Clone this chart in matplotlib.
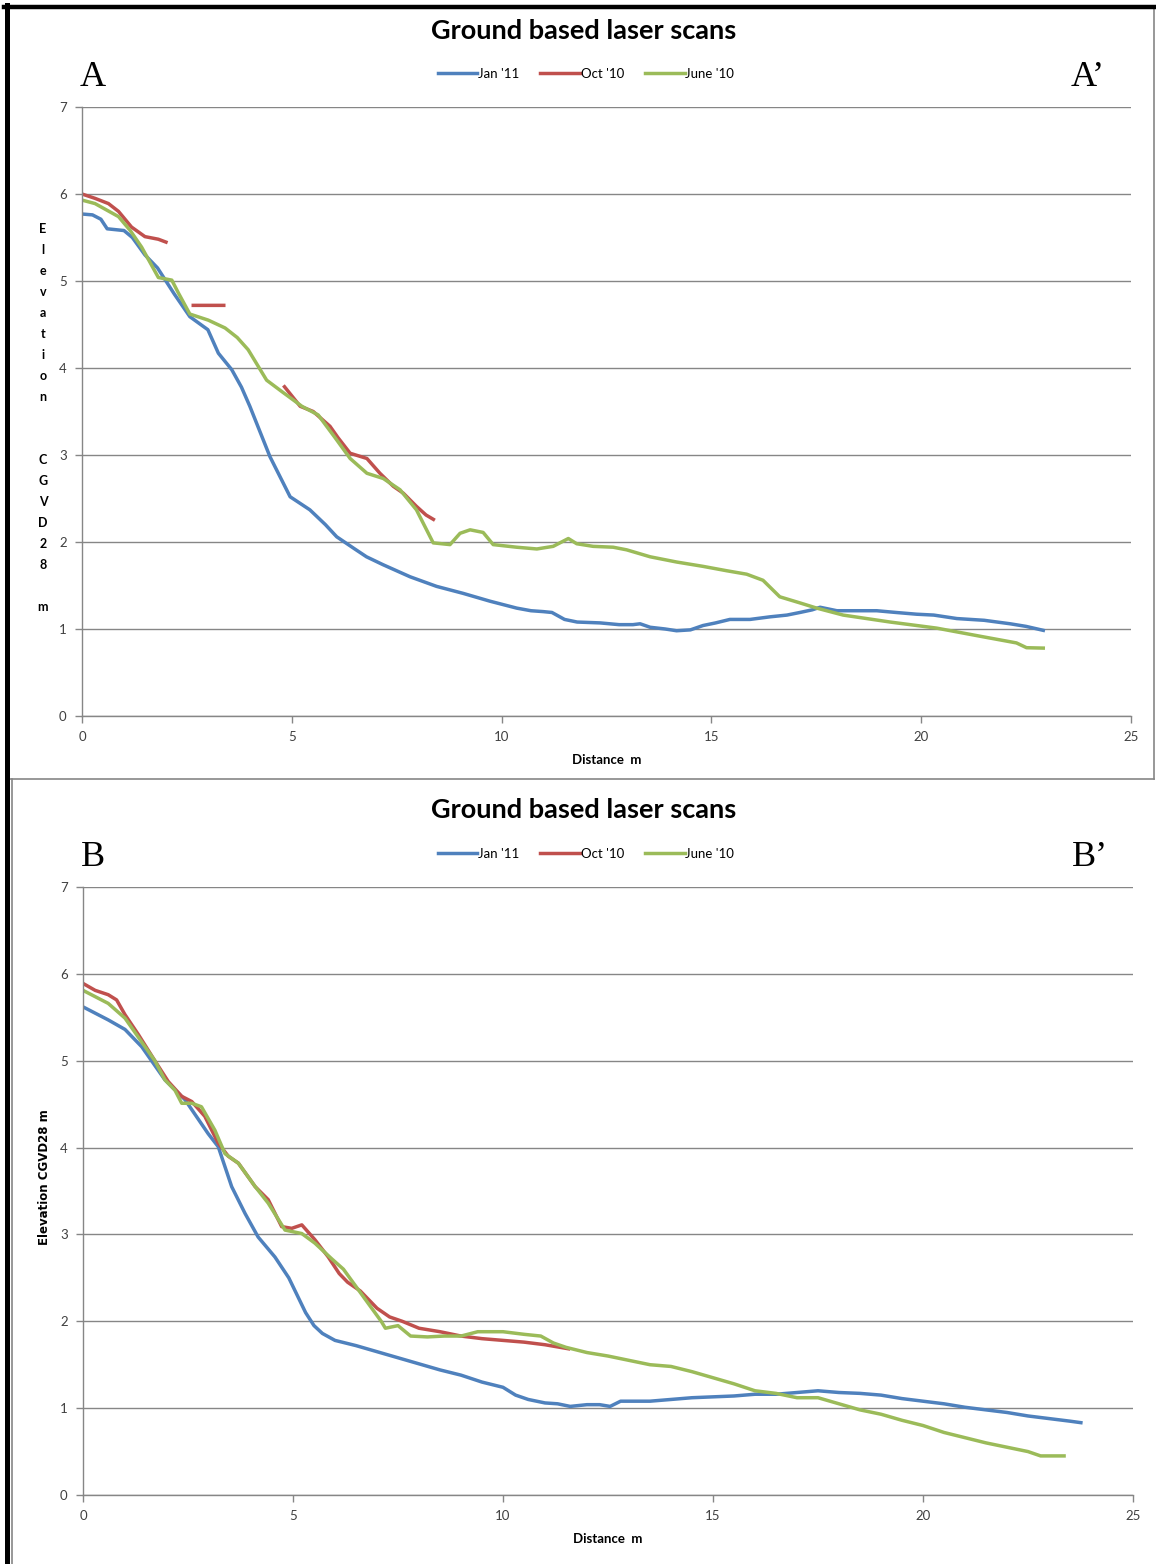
import matplotlib
matplotlib.use('Agg')
import matplotlib.pyplot as plt
from matplotlib.lines import Line2D
import numpy as np

# ================== data ==================
nan = np.nan
SERIES_NAMES = ["Jan '11", "Oct '10", "June '10"]
COLORS = ['#4F81BD', '#C0504D', '#9BBB59']

# --- profile A-A' ---
jan_a_x = [0, 0.25, 0.45, 0.6, 1.0, 1.2, 1.5, 1.8, 2.0, 2.2, 2.57, 3.0, 3.25, 3.57, 3.8, 4.0,
           4.48, 4.96, 5.43, 5.8, 6.07, 6.5, 6.78, 7.17, 7.82, 8.45, 9.08, 9.72, 10.36, 10.7,
           10.99, 11.2, 11.5, 11.8, 12.35, 12.8, 13.13, 13.3, 13.54, 13.9, 14.17, 14.5, 14.8,
           15.1, 15.44, 15.92, 16.4, 16.8, 17.11, 17.4, 17.59, 17.99, 18.5, 18.94, 19.4, 19.89,
           20.3, 20.85, 21.5, 22.12, 22.5, 22.95]
jan_a_y = [5.77, 5.76, 5.71, 5.6, 5.58, 5.5, 5.3, 5.15, 5.0, 4.85, 4.59, 4.44, 4.17, 3.98, 3.78,
           3.56, 2.98, 2.52, 2.37, 2.2, 2.06, 1.92, 1.83, 1.74, 1.60, 1.49, 1.41, 1.32, 1.24,
           1.21, 1.20, 1.19, 1.11, 1.08, 1.07, 1.05, 1.05, 1.06, 1.02, 1.00, 0.98, 0.99, 1.04,
           1.07, 1.11, 1.11, 1.14, 1.16, 1.19, 1.22, 1.25, 1.21, 1.21, 1.21, 1.19, 1.17, 1.16,
           1.12, 1.10, 1.06, 1.03, 0.98]

# Oct '10 has gaps in profile A (nan breaks the line)
oct_a_x = [0, 0.31, 0.63, 0.87, 1.18, 1.5, 1.82, 2.04, nan,
           2.61, 3.42, nan,
           4.8, 5.2, 5.51, 5.91, 6.1, 6.39, 6.79, 7.1, 7.42, 7.66, 7.97, 8.2, 8.41]
oct_a_y = [6.0, 5.95, 5.89, 5.80, 5.62, 5.51, 5.48, 5.44, nan,
           4.72, 4.72, nan,
           3.80, 3.56, 3.50, 3.33, 3.2, 3.02, 2.96, 2.79, 2.64, 2.56, 2.41, 2.31, 2.25]

jun_a_x = [0, 0.31, 0.87, 1.15, 1.42, 1.82, 2.14, 2.3, 2.57, 3.01, 3.41, 3.7, 3.96, 4.4, 4.76,
           5.24, 5.63, 6.03, 6.39, 6.79, 7.18, 7.58, 7.97, 8.37, 8.77, 9.01, 9.25, 9.56, 9.80,
           10.36, 10.84, 11.23, 11.59, 11.79, 12.18, 12.66, 12.98, 13.54, 14.17, 14.80, 15.36,
           15.84, 16.23, 16.63, 17.11, 17.51, 18.14, 19.26, 20.37, 21.48, 22.27, 22.51, 22.95]
jun_a_y = [5.93, 5.89, 5.74, 5.58, 5.39, 5.04, 5.01, 4.86, 4.62, 4.55, 4.46, 4.35, 4.21, 3.86,
           3.73, 3.56, 3.46, 3.20, 2.96, 2.79, 2.73, 2.60, 2.37, 1.99, 1.97, 2.10, 2.14, 2.11,
           1.97, 1.94, 1.92, 1.95, 2.04, 1.98, 1.95, 1.94, 1.91, 1.83, 1.77, 1.72, 1.67, 1.63,
           1.56, 1.37, 1.30, 1.24, 1.16, 1.08, 1.01, 0.91, 0.84, 0.785, 0.78]

# --- profile B-B' ---
jan_b_x = [0, 0.6, 1.0, 1.4, 1.95, 2.43, 2.98, 3.22, 3.54, 3.86, 4.17, 4.57, 4.9, 5.1, 5.3, 5.5,
           5.7, 6.0, 6.5, 7.0, 7.5, 8.0, 8.5, 9.0, 9.5, 10.0, 10.3, 10.6, 11.0, 11.3, 11.6, 12.0,
           12.3, 12.55, 12.8, 13.5, 14.0, 14.5, 15.0, 15.5, 16.0, 16.5, 17.0, 17.5, 18.0, 18.5,
           19.0, 19.5, 20.0, 20.5, 21.0, 21.5, 22.0, 22.5, 23.0, 23.5, 23.8]
jan_b_y = [5.62, 5.47, 5.36, 5.16, 4.78, 4.55, 4.16, 4.01, 3.55, 3.24, 2.97, 2.74, 2.5, 2.3, 2.1,
           1.95, 1.86, 1.78, 1.72, 1.65, 1.58, 1.51, 1.44, 1.38, 1.30, 1.24, 1.15, 1.1, 1.06,
           1.05, 1.02, 1.04, 1.04, 1.02, 1.08, 1.08, 1.10, 1.12, 1.13, 1.14, 1.16, 1.16, 1.18,
           1.20, 1.18, 1.17, 1.15, 1.11, 1.08, 1.05, 1.01, 0.98, 0.95, 0.91, 0.88, 0.85, 0.83]

oct_b_x = [0, 0.29, 0.6, 0.8, 1.0, 1.32, 1.71, 2.03, 2.35, 2.59, 2.9, 3.22, 3.46, 3.70, 4.1,
           4.41, 4.73, 4.97, 5.21, 5.52, 5.84, 6.1, 6.3, 6.6, 7.0, 7.3, 7.6, 8.0, 8.5, 9.0, 9.5,
           10.0, 10.5, 11.0, 11.6]
oct_b_y = [5.89, 5.81, 5.76, 5.70, 5.53, 5.30, 5.0, 4.76, 4.59, 4.53, 4.36, 4.05, 3.90, 3.82,
           3.55, 3.40, 3.09, 3.07, 3.11, 2.94, 2.74, 2.55, 2.45, 2.35, 2.15, 2.05, 2.0, 1.92,
           1.88, 1.83, 1.80, 1.78, 1.76, 1.73, 1.68]

jun_b_x = [0, 0.6, 1.0, 1.71, 1.95, 2.19, 2.35, 2.59, 2.82, 3.14, 3.38, 3.70, 4.1, 4.41, 4.81,
           5.21, 5.52, 5.92, 6.2, 6.5, 6.8, 7.1, 7.2, 7.5, 7.8, 8.2, 8.6, 9.0, 9.4, 10.0, 10.5,
           10.9, 11.2, 11.5, 12.0, 12.5, 13.0, 13.5, 14.0, 14.5, 15.0, 15.5, 16.0, 16.5, 17.0,
           17.5, 18.0, 18.5, 19.0, 19.5, 20.0, 20.5, 21.0, 21.5, 22.0, 22.5, 22.8, 23.4]
jun_b_y = [5.81, 5.66, 5.49, 5.0, 4.78, 4.66, 4.51, 4.51, 4.47, 4.20, 3.93, 3.82, 3.55, 3.36,
           3.05, 3.01, 2.90, 2.72, 2.6, 2.4, 2.2, 2.0, 1.92, 1.95, 1.83, 1.82, 1.83, 1.83, 1.88,
           1.88, 1.85, 1.83, 1.75, 1.70, 1.64, 1.60, 1.55, 1.50, 1.48, 1.42, 1.35, 1.28, 1.20,
           1.17, 1.12, 1.12, 1.05, 0.98, 0.93, 0.86, 0.80, 0.72, 0.66, 0.60, 0.55, 0.50, 0.45,
           0.45]

X_TICKS = [0, 5, 10, 15, 20, 25]
Y_TICKS = [0, 1, 2, 3, 4, 5, 6, 7]
TITLE = 'Ground based laser scans'

# ================== layout helpers ==================
W, H = 1156, 1564
GRAY = '#868686'
TXT = '#404040'
LW = 2.5


def fx(px):
    return px / W


def fy(py):
    return 1 - py / H


fig = plt.figure(figsize=(W / 100, H / 100), dpi=100)


def setup_axes(ax):
    ax.set_xlim(0, 25)
    ax.set_ylim(0, 7)
    ax.set_xticks(X_TICKS)
    ax.set_yticks(Y_TICKS)
    ax.grid(axis='y', color=GRAY, linewidth=1.0)
    ax.set_axisbelow(True)
    for s in ['top', 'right']:
        ax.spines[s].set_visible(False)
    for s in ['left', 'bottom']:
        ax.spines[s].set_color(GRAY)
        ax.spines[s].set_linewidth(1.0)
    ax.tick_params(direction='out', length=5, width=1, color=GRAY, labelcolor=TXT,
                   labelsize=9.5, pad=6)
    for lab in ax.get_xticklabels() + ax.get_yticklabels():
        lab.set_family('Lato')


def draw_panel(ax, xs, ys):
    for x, y, c, name in zip(xs, ys, COLORS, SERIES_NAMES):
        ax.plot(x, y, color=c, linewidth=LW, label=name, solid_capstyle='butt',
                solid_joinstyle='round')
    setup_axes(ax)
    ax.set_xlabel('Distance  m', fontsize=9.5, fontweight='bold', family='Lato', color='black',
                  labelpad=8)


# ================== top panel (A - A') ==================
ax1 = fig.add_axes([fx(82), fy(716), fx(1131) - fx(82), fy(107) - fy(716)])
draw_panel(ax1, [jan_a_x, oct_a_x, jun_a_x], [jan_a_y, oct_a_y, jun_a_y])
# stacked letters, like the original axis title
fig.text(fx(43), fy(418), 'E\nl\ne\nv\na\nt\ni\no\nn\n\n\nC\nG\nV\nD\n2\n8\n\nm',
         ha='center', va='center', fontsize=9, fontweight='bold', family='Lato',
         linespacing=1.9)

# ================== bottom panel (B - B') ==================
ax2 = fig.add_axes([fx(83), fy(1495), fx(1133) - fx(83), fy(887) - fy(1495)])
draw_panel(ax2, [jan_b_x, oct_b_x, jun_b_x], [jan_b_y, oct_b_y, jun_b_y])
fig.text(fx(45), fy(1177), 'Elevation CGVD28 m', rotation=90, ha='center', va='center',
         fontsize=8.5, fontweight='bold', family='Liberation Sans Narrow')

# titles, legends and section letters
for ty, ly in [(31, 74), (810, 854)]:
    fig.text(fx(584), fy(ty), TITLE, ha='center', va='center', fontsize=19.5,
             fontweight='bold', family='Lato')
    handles = [Line2D([], [], color=c, linewidth=LW) for c in COLORS]
    fig.legend(handles, SERIES_NAMES, loc='center', bbox_to_anchor=(fx(586), fy(ly)),
               ncol=3, frameon=False, handlelength=3.0, handletextpad=0.05,
               columnspacing=1.6, prop={'family': 'Lato', 'size': 9.5})

fig.text(fx(93), fy(77), 'A', ha='center', va='center', fontsize=26, family='Liberation Serif')
fig.text(fx(1088), fy(77), 'A\u2019', ha='center', va='center', fontsize=26,
         family='Liberation Serif')
fig.text(fx(93), fy(857), 'B', ha='center', va='center', fontsize=26, family='Liberation Serif')
fig.text(fx(1090), fy(857), 'B\u2019', ha='center', va='center', fontsize=26,
         family='Liberation Serif')

# ================== frames ==================
# gray chart borders
fig.add_artist(Line2D([fx(9), fx(1154)], [fy(779), fy(779)], color=GRAY, linewidth=1.2))
fig.add_artist(Line2D([fx(1154), fx(1154)], [fy(8), fy(779)], color=GRAY, linewidth=1.2))
fig.add_artist(Line2D([fx(12), fx(12)], [fy(779), fy(1564)], color=GRAY, linewidth=1.2))
# thick black frame along top and left
fig.add_artist(Line2D([fx(4), fx(1156)], [fy(7), fy(7)], color='black', linewidth=3.2))
fig.add_artist(Line2D([fx(6.5), fx(6.5)], [fy(5), fy(1564)], color='black', linewidth=3.6))

fig.savefig('out.png', dpi=100)
